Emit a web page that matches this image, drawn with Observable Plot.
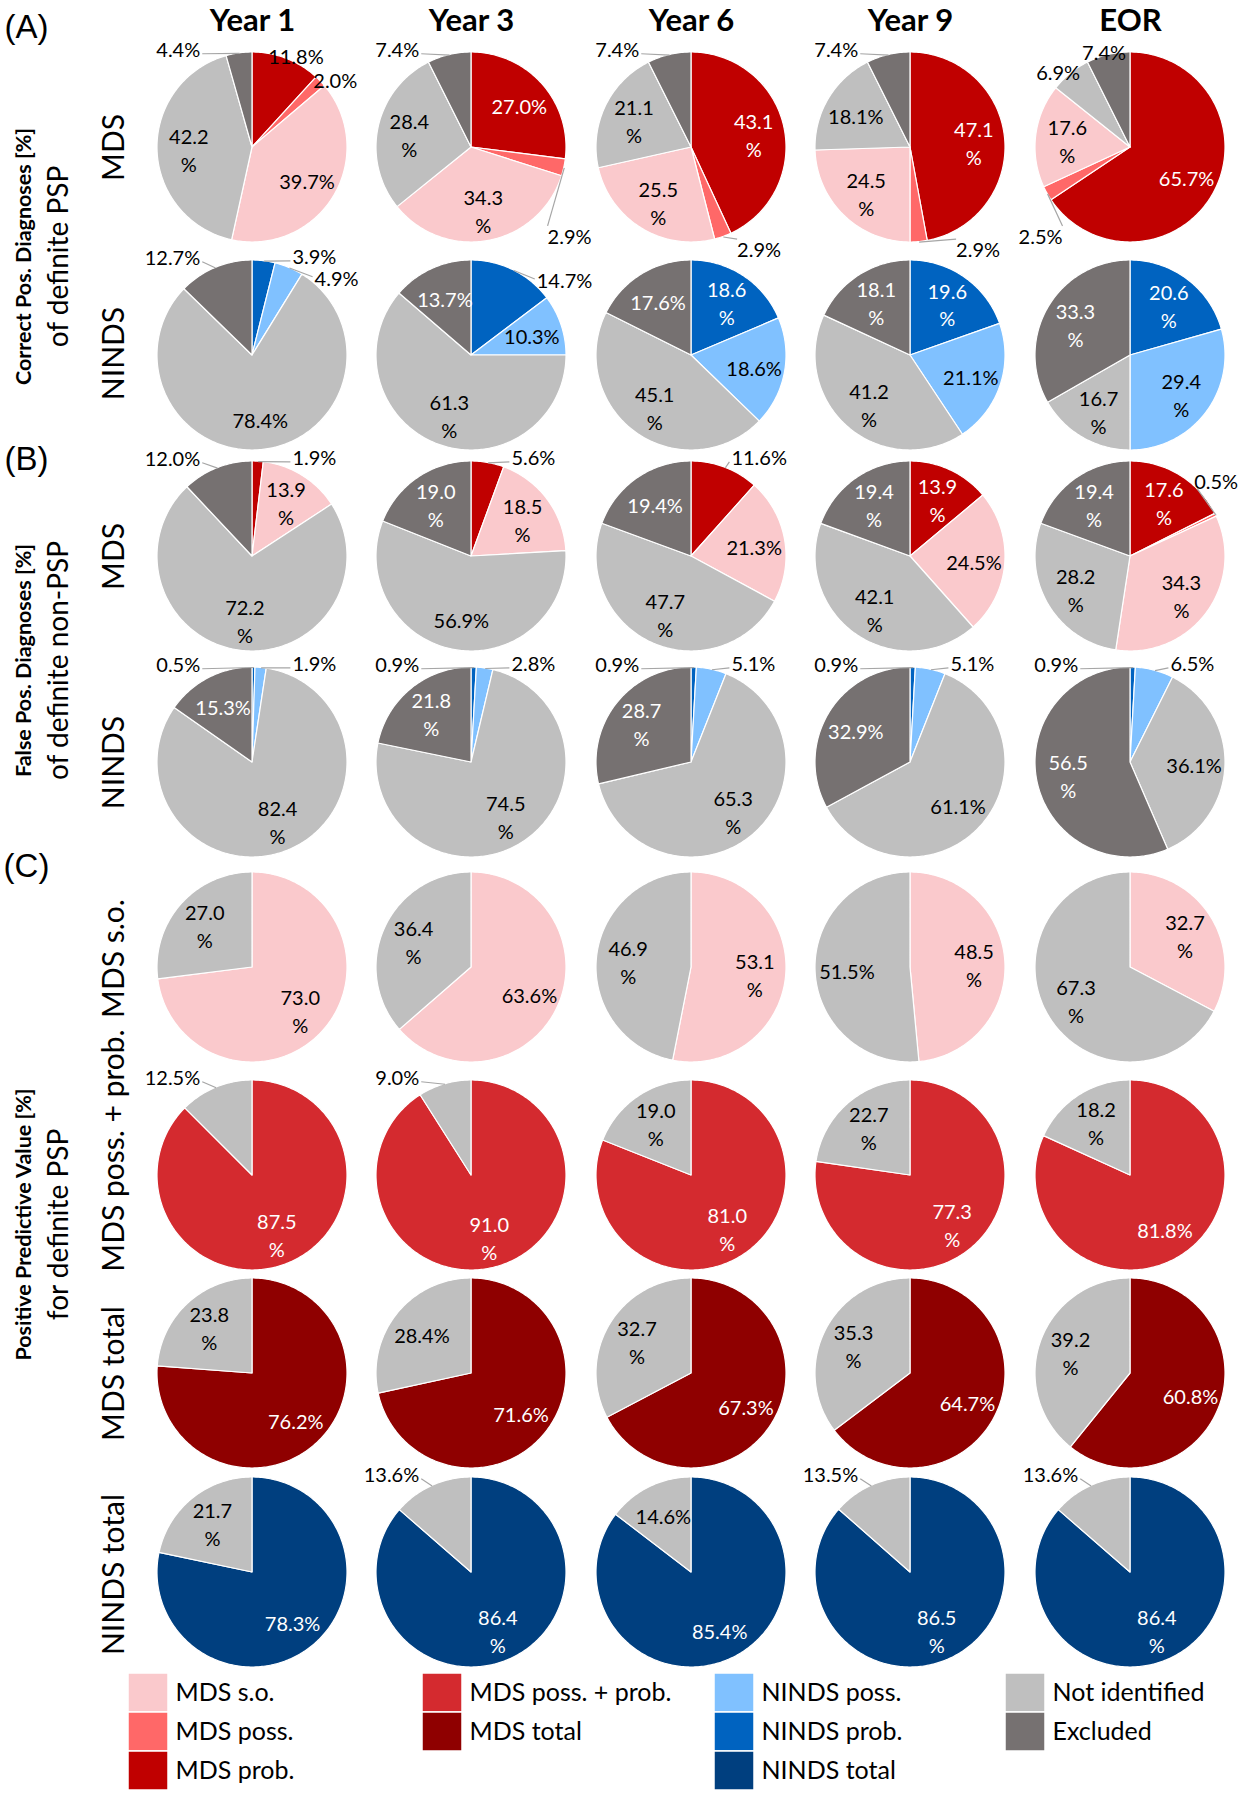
<!DOCTYPE html>
<html>
<head>
<meta charset="utf-8">
<script src="https://cdn.jsdelivr.net/npm/d3@7"></script>
<script src="https://cdn.jsdelivr.net/npm/@observablehq/plot@0.6"></script>
<style>
  html, body { margin: 0; padding: 0; background: #fff; }
  #chart svg { display: block; }
</style>
</head>
<body>
<div id="chart"></div>
<script>
// ---------- categories & colours ----------
const categories = ["MDS s.o.", "MDS poss.", "MDS prob.", "MDS poss. + prob.", "MDS total",
                    "NINDS poss.", "NINDS prob.", "NINDS total", "Not identified", "Excluded"];
const categoryColors = ["#fac9cc", "#ff6868", "#c00000", "#d42a2f", "#8f0000",
                        "#80c1ff", "#0063c0", "#003f7f", "#bfbfbf", "#767171"];
const whiteTextCategories = ["MDS prob.", "MDS poss. + prob.", "MDS total", "NINDS prob.", "NINDS total", "Excluded"];

const years = ["Year 1", "Year 3", "Year 6", "Year 9", "EOR"];

// ---------- (A) correct positive diagnoses of definite PSP ----------
const aMdsOrder = ["MDS prob.", "MDS poss.", "MDS s.o.", "Not identified", "Excluded"];
const aMdsValues = [
  [11.8, 2.0, 39.7, 42.2, 4.4],
  [27.0, 2.9, 34.3, 28.4, 7.4],
  [43.1, 2.9, 25.5, 21.1, 7.4],
  [47.1, 2.9, 24.5, 18.1, 7.4],
  [65.7, 2.5, 17.6, 6.9, 7.4]
];
const aNindsOrder = ["NINDS prob.", "NINDS poss.", "Not identified", "Excluded"];
const aNindsValues = [
  [3.9, 4.9, 78.4, 12.7],
  [14.7, 10.3, 61.3, 13.7],
  [18.6, 18.6, 45.1, 17.6],
  [19.6, 21.1, 41.2, 18.1],
  [20.6, 29.4, 16.7, 33.3]
];
// ---------- (B) false positive diagnoses of definite non-PSP ----------
const bMdsOrder = ["MDS prob.", "MDS poss.", "MDS s.o.", "Not identified", "Excluded"];
const bMdsValues = [
  [1.9, 0, 13.9, 72.2, 12.0],
  [5.6, 0, 18.5, 56.9, 19.0],
  [11.6, 0, 21.3, 47.7, 19.4],
  [13.9, 0, 24.5, 42.1, 19.4],
  [17.6, 0.5, 34.3, 28.2, 19.4]
];
const bNindsOrder = ["NINDS prob.", "NINDS poss.", "Not identified", "Excluded"];
const bNindsValues = [
  [0.5, 1.9, 82.4, 15.3],
  [0.9, 2.8, 74.5, 21.8],
  [0.9, 5.1, 65.3, 28.7],
  [0.9, 5.1, 61.1, 32.9],
  [0.9, 6.5, 36.1, 56.5]
];
// ---------- (C) positive predictive value for definite PSP ----------
const cSoOrder = ["MDS s.o.", "Not identified"];
const cSoValues = [[73.0, 27.0], [63.6, 36.4], [53.1, 46.9], [48.5, 51.5], [32.7, 67.3]];
const cPossProbOrder = ["MDS poss. + prob.", "Not identified"];
const cPossProbValues = [[87.5, 12.5], [91.0, 9.0], [81.0, 19.0], [77.3, 22.7], [81.8, 18.2]];
const cMdsTotalOrder = ["MDS total", "Not identified"];
const cMdsTotalValues = [[76.2, 23.8], [71.6, 28.4], [67.3, 32.7], [64.7, 35.3], [60.8, 39.2]];
const cNindsTotalOrder = ["NINDS total", "Not identified"];
const cNindsTotalValues = [[78.3, 21.7], [86.4, 13.6], [85.4, 14.6], [86.5, 13.5], [86.4, 13.6]];

// ---------- label placement modes (layout, not data) ----------
// i: inside one line, i2: inside two lines, o: outside radial, tl/tr: top-left/right with leader,
// b: below with leader, r: right of edge, ur: upper right with leader, -: none
const aMdsModes = [["o","o","i","i2","tl"],["i","b","i2","i2","tl"],["i2","b","i2","i2","tl"],["i2","b","i2","i","tl"],["i","b","i2","o","o"]];
const aNindsModes = [["tr","r","i","tl"],["r","i","i2","i"],["i2","i","i2","i"],["i2","i","i2","i2"],["i2","i2","i2","i2"]];
const bMdsModes = [["tr","-","i2","i2","tl"],["tr","-","i2","i","i2"],["tr","-","i","i2","i"],["i2","-","i","i2","i2"],["i2","ur","i2","i2","i2"]];
const bNindsModes = [["tl","tr","i2","i"],["tl","tr","i2","i2"],["tl","tr","i2","i2"],["tl","tr","i","i"],["tl","tr","i","i2"]];
const cSoModes = [["i2","i2"],["i","i2"],["i2","i2"],["i2","i"],["i2","i2"]];
const cPossProbModes = [["i2","tl"],["i2","tl"],["i2","i2"],["i2","i2"],["i","i2"]];
const cMdsTotalModes = [["i","i2"],["i","i"],["i","i2"],["i","i2"],["i","i2"]];
const cNindsTotalModes = [["i","i2"],["i2","tl"],["i","i"],["i2","tl"],["i2","tl"]];

const rowSpecs = [
  {order: aMdsOrder, values: aMdsValues, modes: aMdsModes},
  {order: aNindsOrder, values: aNindsValues, modes: aNindsModes},
  {order: bMdsOrder, values: bMdsValues, modes: bMdsModes},
  {order: bNindsOrder, values: bNindsValues, modes: bNindsModes},
  {order: cSoOrder, values: cSoValues, modes: cSoModes},
  {order: cPossProbOrder, values: cPossProbValues, modes: cPossProbModes},
  {order: cMdsTotalOrder, values: cMdsTotalValues, modes: cMdsTotalModes},
  {order: cNindsTotalOrder, values: cNindsTotalValues, modes: cNindsTotalModes}
];

const rowLabels = ["MDS", "NINDS", "MDS", "NINDS", "MDS s.o.", "MDS poss. + prob.", "MDS total", "NINDS total"];
const sectionLetters = ["(A)", "(B)", "(C)"];
const sectionTitles = ["Correct Pos. Diagnoses [%]", "False Pos. Diagnoses [%]", "Positive Predictive Value [%]"];
const sectionSubtitles = ["of definite PSP", "of definite non-PSP", "for definite PSP"];
const legendColumns = [
  ["MDS s.o.", "MDS poss.", "MDS prob."],
  ["MDS poss. + prob.", "MDS total"],
  ["NINDS poss.", "NINDS prob.", "NINDS total"],
  ["Not identified", "Excluded"]
];

// ---------- layout ----------
const W = 1245, H = 1800;
const colX = [252, 471, 691, 910, 1130];
const rowY = [147, 355, 556, 762, 967, 1175, 1373, 1572];
const R = 95;
const FS = 20;
const kIn = 0.67;
const fmt = d3.format(".1f");

const wedgePts = [];
const labels = [];
const leaders = [];

rowSpecs.forEach((spec, ri) => {
  spec.values.forEach((vals, ci) => {
    const cx = colX[ci], cy = rowY[ri];
    const arcs = d3.pie().sort(null).value(d => d)(vals);
    arcs.forEach((a, si) => {
      if (!(a.value > 0)) return;
      const cat = spec.order[si];
      const key = `${ri}-${ci}-${si}`;
      const span = a.endAngle - a.startAngle;
      const n = Math.max(2, Math.ceil(span / (Math.PI / 180)));
      for (let k = 0; k <= n; k++) {
        const t = a.startAngle + span * k / n;
        wedgePts.push({key, cat, x1: cx + R * Math.sin(t), y1: cy - R * Math.cos(t), x2: cx, y2: cy});
      }
      const mode = spec.modes[ci][si];
      if (mode === "-") return;
      const mid = (a.startAngle + a.endAngle) / 2;
      const s = Math.sin(mid), c = -Math.cos(mid);
      const ex = cx + R * s, ey = cy + R * c;
      const txt = fmt(a.value) + "%";
      const w = txt.length * 0.5 * FS;
      const white = whiteTextCategories.includes(cat);
      if (mode === "i" || mode === "i2") {
        labels.push({x: cx + kIn * R * s, y: cy + kIn * R * c,
          text: mode === "i" ? txt : fmt(a.value) + "\n%", anchor: "middle", color: white ? "white" : "black"});
      } else if (mode === "o") {
        labels.push({x: cx + (R + w / 2) * s, y: cy + (R + 4) * c, text: txt, anchor: "middle", color: "black"});
      } else if (mode === "tl") {
        const lx = cx - 0.55 * R, ly = cy - 1.05 * R;
        labels.push({x: lx, y: ly, text: txt, anchor: "end", color: "black"});
        leaders.push({x1: lx + 2, y1: ly + 6, x2: ex, y2: ey});
      } else if (mode === "tr") {
        const lx = cx + 0.42 * R, ly = cy - 1.06 * R;
        labels.push({x: lx, y: ly, text: txt, anchor: "start", color: "black"});
        leaders.push({x1: lx - 2, y1: ly + 6, x2: ex, y2: ey});
      } else if (mode === "r") {
        const ly = cy + c * R * 0.9;
        const lx = cx + Math.sqrt(1 - (c * 0.9) ** 2) * R + 9;
        labels.push({x: lx, y: ly, text: txt, anchor: "start", color: "black"});
        leaders.push({x1: lx - 2, y1: ly, x2: ex, y2: ey});
      } else if (mode === "b") {
        const sign = s >= 0 ? 1 : -1;
        const lx = cx + sign * Math.max(0.48, Math.abs(s) * 0.82) * R;
        const ly = cy + (Math.abs(s) > 0.8 ? 0.92 : 1.06) * R;
        labels.push({x: lx, y: ly, text: txt, anchor: sign > 0 ? "start" : "end", color: "black"});
        leaders.push({x1: lx, y1: ly - 9, x2: ex, y2: ey});
      } else if (mode === "ur") {
        const lx = cx + 0.67 * R, ly = cy - 0.81 * R;
        labels.push({x: lx, y: ly, text: txt, anchor: "start", color: "black"});
        leaders.push({x1: lx + 3, y1: ly + 9, x2: ex, y2: ey});
      }
    });
  });
});

// headers, row and section labels
const headerData = years.map((t, i) => ({t, x: colX[i], y: 21}));
const rowLabelY = [147, 353, 556, 762, 958, 1150, 1373, 1574];
const rowLabelData = rowLabels.map((t, i) => ({t, x: 114, y: rowLabelY[i]}));
const sectionY = [27, 459, 866];
const sectionLetterData = sectionLetters.map((t, i) => ({t, x: 26, y: sectionY[i]}));
const sectionMid = [256, 660, 1224];
const sectionTitleData = sectionTitles.map((t, i) => ({t, x: 24, y: sectionMid[i]}));
const sectionSubData = sectionSubtitles.map((t, i) => ({t, x: 59, y: sectionMid[i]}));

// legend
const legendX = [128, 422, 714, 1005];
const legendTop = 1673, swH = 39, swW = 40;
const legendData = legendColumns.flatMap((col, ci) => col.map((cat, k) => ({
  cat, x1: legendX[ci], x2: legendX[ci] + swW, y1: legendTop + k * swH, y2: legendTop + (k + 1) * swH
})));

const labelMarks = [];
for (const anchor of ["start", "middle", "end"]) {
  for (const color of ["black", "white"]) {
    labelMarks.push(Plot.text(labels.filter(d => d.anchor === anchor && d.color === color), {
      x: "x", y: "y", text: "text", textAnchor: anchor, fill: color, fontSize: FS, lineHeight: 1.4
    }));
  }
}

const chart = Plot.plot({
  width: W, height: H,
  margin: 0,
  style: {fontFamily: "Lato, 'Noto Sans', sans-serif", background: "white"},
  x: {domain: [0, W], range: [0, W], axis: null},
  y: {domain: [0, H], range: [0, H], axis: null},
  color: {domain: categories, range: categoryColors},
  marks: [
    Plot.area(wedgePts, {x1: "x1", y1: "y1", x2: "x2", y2: "y2", z: "key", fill: "cat",
      stroke: "white", strokeWidth: 1.2, strokeLinejoin: "round"}),
    Plot.link(leaders, {x1: "x1", y1: "y1", x2: "x2", y2: "y2", stroke: "#a6a6a6", strokeWidth: 1.2}),
    ...labelMarks,
    Plot.text(headerData, {x: "x", y: "y", text: "t", fontSize: 31, fontWeight: "bold", fill: "black"}),
    Plot.text(rowLabelData, {x: "x", y: "y", text: "t", rotate: -90, fontSize: 30, fill: "black"}),
    Plot.text(sectionLetterData, {x: "x", y: "y", text: "t", fontSize: 33, fill: "black", fontFamily: "Liberation Sans, Arial, sans-serif"}),
    Plot.text(sectionTitleData, {x: "x", y: "y", text: "t", rotate: -90, fontSize: 21.5, fontWeight: "bold", fill: "black"}),
    Plot.text(sectionSubData, {x: "x", y: "y", text: "t", rotate: -90, fontSize: 28, fill: "black"}),
    Plot.rect(legendData, {x1: "x1", x2: "x2", y1: "y1", y2: "y2", fill: "cat", stroke: "white", strokeWidth: 1.5}),
    Plot.text(legendData, {x: d => d.x2 + 7, y: d => (d.y1 + d.y2) / 2, text: "cat", textAnchor: "start", fontSize: 25, fill: "black"})
  ]
});
document.getElementById("chart").appendChild(chart);
</script>
</body>
</html>
